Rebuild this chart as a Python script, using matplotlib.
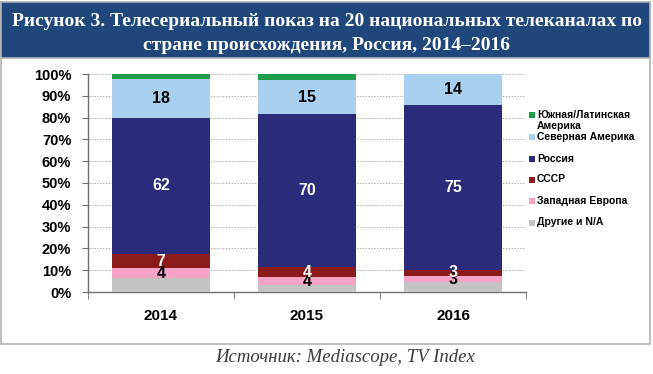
import matplotlib
matplotlib.use("Agg")
import matplotlib.pyplot as plt
import numpy as np
from matplotlib.patches import Rectangle
from matplotlib.ticker import FuncFormatter

plt.rcParams['font.family'] = ['Liberation Sans', 'DejaVu Sans']

# данные (доли в %)
years = ["2014", "2015", "2016"]
series_names = ["Другие и N/A", "Западная Европа", "СССР", "Россия",
                "Северная Америка", "Южная/Латинская\nАмерика"]
other = [6.3, 3.2, 4.4]
west_europe = [4.6, 3.5, 3.1]
ussr = [6.6, 4.6, 2.6]
russia = [62.3, 70.3, 75.8]
north_america = [18.0, 15.5, 13.9]
south_america = [2.2, 2.9, 0.4]

# подписи на столбцах как в оригинале
label_west_europe = ["4", "4", "3"]
label_ussr = ["7", "4", "3"]
label_russia = ["62", "70", "75"]
label_north_america = ["18", "15", "14"]

colors = ["#c4c4c4", "#f5a3c6", "#8d1a1a", "#2b2b7b", "#a9d0ef", "#1e9e4a"]

fig = plt.figure(figsize=(6.53, 3.74), dpi=100)

# рамка и заголовок
fig.patches.append(Rectangle((1 / 653, 30 / 374), 649 / 653, 342 / 374,
                             transform=fig.transFigure, facecolor='white',
                             edgecolor='#b4b4b4', linewidth=1.2, zorder=0))
fig.patches.append(Rectangle((1 / 653, 316 / 374), 649 / 653, 56 / 374,
                             transform=fig.transFigure, facecolor='#1f477b',
                             edgecolor='#b4b4b4', linewidth=1.2, zorder=1))
fig.text(0.5, 1 - 33.5 / 374,
         "Рисунок 3. Телесериальный показ на 20 национальных телеканалах по\n"
         "стране происхождения, Россия, 2014–2016",
         ha='center', va='center', color='white', fontsize=14, fontweight='bold',
         family=['Liberation Serif'], linespacing=1.5)

ax = fig.add_axes([88 / 653, 82 / 374, 438 / 653, 218 / 374])
ax.set_zorder(5)
ax.patch.set_alpha(0)

x = np.arange(len(years))
stack = [other, west_europe, ussr, russia, north_america, south_america]
bottom = np.zeros(len(years))
segments = []
for vals, col in zip(stack, colors):
    vals = np.array(vals)
    ax.bar(x, vals, width=0.67, bottom=bottom, color=col, zorder=3)
    segments.append((bottom.copy(), vals))
    bottom = bottom + vals

labels = [(1, label_west_europe, 'black'), (2, label_ussr, 'white'),
          (3, label_russia, 'white'), (4, label_north_america, 'black')]
for idx, texts, tcol in labels:
    b, v = segments[idx]
    for i in range(len(years)):
        ax.text(x[i], b[i] + v[i] / 2, texts[i], ha='center', va='center',
                color=tcol, fontsize=11.5, fontweight='bold', zorder=5)

ax.set_xlim(-0.5, 2.5)
ax.set_ylim(0, 100)
ax.set_yticks(np.arange(0, 101, 10))
ax.yaxis.set_major_formatter(FuncFormatter(lambda v, p: f"{int(v)}%"))
ax.set_xticks(x)
ax.set_xticklabels(years)
ax.set_xticks([-0.5, 0.5, 1.5, 2.5], minor=True)
ax.tick_params(axis='x', which='major', length=0, pad=12, labelsize=11)
ax.tick_params(axis='x', which='minor', length=5, color='#707070', direction='out')
ax.tick_params(axis='y', length=4, color='#707070', labelsize=10.5, pad=8)
for lab in ax.get_xticklabels() + ax.get_yticklabels():
    lab.set_fontweight('bold')
ax.grid(axis='y', linestyle=(0, (1.5, 1.5)), color='#b0b0b0', linewidth=0.7, zorder=0)
ax.set_axisbelow(True)
for side in ['top', 'right']:
    ax.spines[side].set_visible(False)
for side in ['left', 'bottom']:
    ax.spines[side].set_color('#707070')
    ax.spines[side].set_linewidth(1.0)

# легенда справа
legend_y = [115, 137, 159, 180, 201, 222.5]
for name, col, ly in zip(series_names[::-1], colors[::-1], legend_y):
    fig.patches.append(Rectangle((529 / 653, 1 - (ly + 3) / 374), 6 / 653, 6 / 374,
                                 transform=fig.transFigure, facecolor=col,
                                 edgecolor='none', zorder=3))
    fig.text(537 / 653, 1 - (ly - 5.5) / 374, name, ha='left', va='top',
             fontsize=7.5, fontweight='bold', linespacing=1.2)

fig.text(345 / 653, 1 - 357 / 374, "Источник: Mediascope, TV Index",
         ha='center', va='center', fontsize=13.5, style='italic',
         color='#3c3c3c', family=['Liberation Serif'])

fig.savefig("out.png", dpi=100)
